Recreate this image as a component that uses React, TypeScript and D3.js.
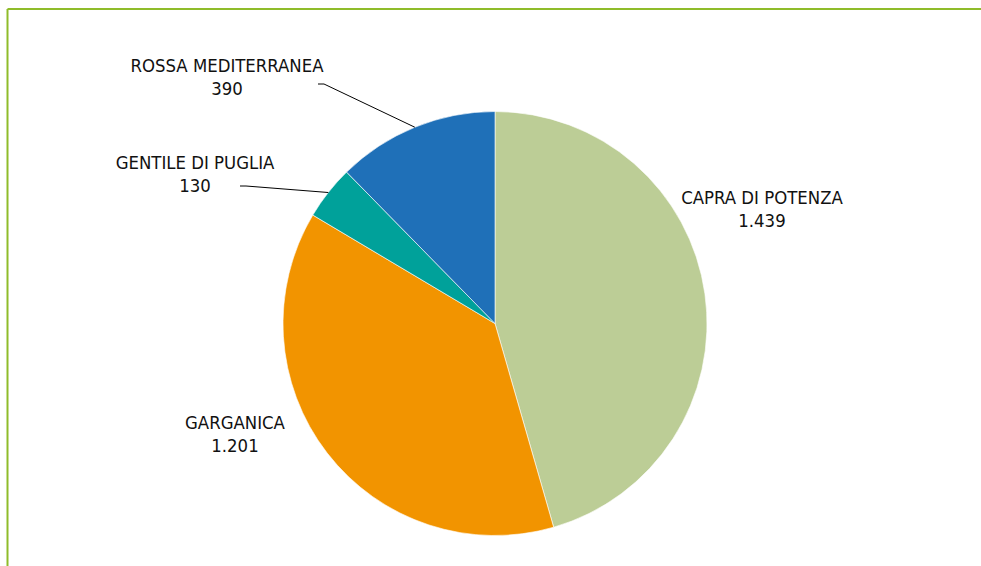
import React from "react";
import * as d3 from "d3";

const categories = ["CAPRA DI POTENZA", "GARGANICA", "GENTILE DI PUGLIA", "ROSSA MEDITERRANEA"];
const values = [1439, 1201, 130, 390];
const valueLabels = ["1.439", "1.201", "130", "390"];
const colors = ["#bccd96", "#f29400", "#00a19a", "#1f70b8"];

// label layout: text center x, first baseline y, optional leader end
const labelLayout = [
  { x: 762, y: 204, leader: null as null | [number, number] },
  { x: 235, y: 429, leader: null },
  { x: 195, y: 169, leader: [240, 186] as [number, number] },
  { x: 227, y: 72, leader: [318, 84] as [number, number] },
];

const W = 981, H = 566;
const cx = 495, cy = 323.5, R = 212;

export default function App() {
  const pie = d3.pie<number>().sort(null).value((d) => d)(values);
  const arc = d3.arc<d3.PieArcDatum<number>>().innerRadius(0).outerRadius(R);
  const font = "'DejaVu Sans Condensed', 'DejaVu Sans', sans-serif";
  return (
    <svg width={W} height={H} style={{ position: "absolute", left: 0, top: 0 }}>
      <rect width={W} height={H} fill="#fff" />
      <line x1={7.5} y1={9} x2={W} y2={9} stroke="#8fbc2a" strokeWidth={2} />
      <line x1={7.5} y1={9} x2={7.5} y2={H} stroke="#8fbc2a" strokeWidth={2} />
      <g transform={`translate(${cx},${cy})`}>
        {pie.map((p, i) => (
          <path key={i} d={arc(p) || ""} fill={colors[i]} stroke="#fff" strokeWidth={0.6} />
        ))}
      </g>
      {pie.map((p, i) => {
        const L = labelLayout[i];
        const mid = (p.startAngle + p.endAngle) / 2;
        const ex = cx + R * Math.sin(mid);
        const ey = cy - R * Math.cos(mid);
        return (
          <g key={i}>
            {L.leader && (
              <polyline
                points={`${L.leader[0]},${L.leader[1]} ${L.leader[0] + 6},${L.leader[1]} ${ex},${ey}`}
                fill="none"
                stroke="#000"
                strokeWidth={1}
              />
            )}
            <text x={L.x} y={L.y} textAnchor="middle" fontFamily={font} fontSize={18.4} fill="#111">
              {categories[i]}
            </text>
            <text x={L.x} y={L.y + 23} textAnchor="middle" fontFamily={font} fontSize={18.4} fill="#111">
              {valueLabels[i]}
            </text>
          </g>
        );
      })}
    </svg>
  );
}
